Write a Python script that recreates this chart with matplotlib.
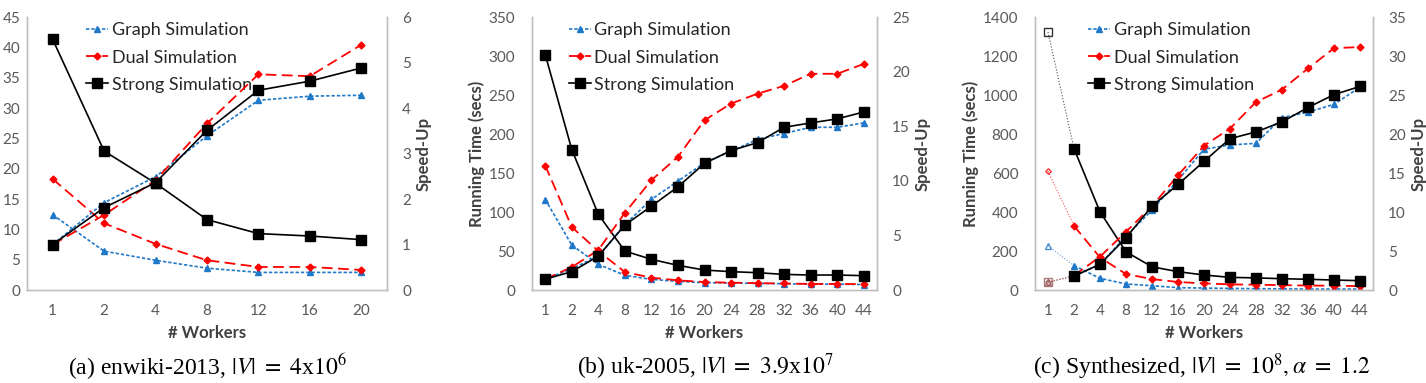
import matplotlib.pyplot as plt
import numpy as np

plt.rcParams['font.family'] = ['Lato', 'DejaVu Sans']
plt.rcParams['mathtext.fontset'] = 'stix'

# (a) enwiki-2013
workers_a = ['1', '2', '4', '8', '12', '16', '20']
time_graph_a = [12.4, 6.4, 4.9, 3.6, 2.9, 2.9, 2.9]
time_dual_a = [18.3, 11.0, 7.6, 4.9, 3.8, 3.8, 3.3]
time_strong_a = [41.3, 22.9, 17.6, 11.6, 9.3, 8.9, 8.3]
speed_graph_a = [1.0, 1.92, 2.49, 3.39, 4.17, 4.26, 4.28]
speed_dual_a = [1.0, 1.65, 2.41, 3.66, 4.74, 4.70, 5.39]
speed_strong_a = [1.0, 1.81, 2.36, 3.51, 4.39, 4.59, 4.88]

# (b) uk-2005
workers_b = ['1', '2', '4', '8', '12', '16', '20', '24', '28', '32', '36', '40', '44']
time_graph_b = [116, 57.6, 32.9, 18.8, 13.7, 11, 9.4, 9, 8.5, 8, 7.5, 7.5, 7]
time_dual_b = [159.6, 80.7, 49.9, 23, 15.8, 12.4, 10.2, 9.4, 8.8, 8.4, 7.8, 7.8, 7.5]
time_strong_b = [301.7, 180, 96.9, 49.9, 39.3, 31.6, 25.6, 23.5, 22.2, 20, 19.2, 19.2, 18.4]
speed_graph_b = [1.0, 1.95, 3.1, 6.0, 8.3, 9.97, 11.65, 12.7, 13.8, 14.33, 14.9, 14.9, 15.3]
speed_dual_b = [1.0, 2.1, 3.66, 7.07, 10.06, 12.2, 15.55, 17.07, 17.98, 18.7, 19.8, 19.8, 20.7]
speed_strong_b = [1.0, 1.68, 3.1, 5.95, 7.68, 9.45, 11.6, 12.77, 13.5, 14.9, 15.3, 15.67, 16.3]

# (c) Synthesized
workers_c = workers_b
time_graph_c = [227, 125, 60, 31, 22, 12, 10, 8, 7, 6, 5, 5, 5]
time_dual_c = [609, 329, 167, 82, 56, 41, 34, 29, 27, 25, 23, 22, 20]
time_strong_c = [1323, 725, 401, 196, 119, 94, 77, 65, 62, 58, 55, 51, 48]
speed_graph_c = [1.0, 1.8, 3.3, 6.9, 10.24, 14.1, 18.05, 18.6, 18.8, 22.1, 22.8, 23.8, 26.0]
speed_dual_c = [1.0, 1.85, 4.27, 7.47, 10.75, 14.7, 18.5, 20.7, 24.1, 25.7, 28.4, 31.0, 31.15]
speed_strong_c = [1.0, 1.79, 3.29, 6.7, 10.75, 13.53, 16.5, 19.4, 20.27, 21.55, 23.4, 25.05, 26.1]

captions = [r'(a) enwiki-2013, $|V|\ =\ 4$x$10^6$',
            r'(b) uk-2005, $|V|\ =\ 3.9$x$10^7$',
            r'(c) Synthesized, $|V|\ =\ 10^8, \alpha\ =\ 1.2$']

BLUE = '#1f78c8'
RED = '#ff0000'
BLACK = '#000000'
GRID = '#bfbfbf'
TXT = '#595959'

styles = {
    'Graph Simulation': dict(color=BLUE, ls=(0, (2, 1.2)), marker='^', ms=5, lw=1.2),
    'Dual Simulation': dict(color=RED, ls=(0, (6, 3)), marker='D', ms=3.5, lw=1.3),
    'Strong Simulation': dict(color=BLACK, ls='-', marker='s', ms=6.5, lw=1.2),
}

fig = plt.figure(figsize=(14.26, 3.83), dpi=100)

panels = [
    dict(rect=[27 / 1426, 0.2428, 360 / 1426, 0.7128], workers=workers_a,
         time=[time_graph_a, time_dual_a, time_strong_a],
         speed=[speed_graph_a, speed_dual_a, speed_strong_a],
         ylim=(0, 45), yticks=np.arange(0, 46, 5), ylim2=(0, 6), yticks2=np.arange(0, 7, 1),
         hollow=False, cap_x=207, leg_x=0.12, ylabel=False),
    dict(rect=[532 / 1426, 0.2428, 345 / 1426, 0.7128], workers=workers_b,
         time=[time_graph_b, time_dual_b, time_strong_b],
         speed=[speed_graph_b, speed_dual_b, speed_strong_b],
         ylim=(0, 350), yticks=np.arange(0, 351, 50), ylim2=(0, 25), yticks2=np.arange(0, 26, 5),
         hollow=False, cap_x=705, leg_x=0.06, ylabel=True),
    dict(rect=[1035 / 1426, 0.2428, 338 / 1426, 0.7128], workers=workers_c,
         time=[time_graph_c, time_dual_c, time_strong_c],
         speed=[speed_graph_c, speed_dual_c, speed_strong_c],
         ylim=(0, 1400), yticks=np.arange(0, 1401, 200), ylim2=(0, 35), yticks2=np.arange(0, 36, 5),
         hollow=True, cap_x=1202, leg_x=0.11, ylabel=True),
]


def draw(a, x, y, st, hollow, label=None, first_color=None):
    if hollow:
        # first point drawn faint and hollow, joined by a thin dotted line
        c0 = first_color or st['color']
        a.plot(x[:2], y[:2], color=c0, ls=':', lw=0.8, alpha=0.7)
        a.plot(x[:1], y[:1], ls='none', marker=st['marker'], ms=st['ms'] * 0.8,
               mfc='none', mec=c0, alpha=0.8)
        a.plot(x[1:], y[1:], color=st['color'], ls=st['ls'], lw=st['lw'],
               marker=st['marker'], ms=st['ms'], label=label)
    else:
        a.plot(x, y, color=st['color'], ls=st['ls'], lw=st['lw'],
               marker=st['marker'], ms=st['ms'], label=label)


for i, p in enumerate(panels):
    ax = fig.add_axes(p['rect'])
    ax2 = ax.twinx()
    n = len(p['workers'])
    x = np.arange(n)
    names = list(styles.keys())
    for name, t, s in zip(names, p['time'], p['speed']):
        st = styles[name]
        draw(ax, x, t, st, p['hollow'], label=name)
        draw(ax2, x, s, st, p['hollow'], first_color='#9a5a5a')

    ax.set_xlim(-0.5, n - 0.5)
    ax.set_xticks(x)
    ax.set_xticklabels(p['workers'])
    ax.set_ylim(*p['ylim'])
    ax.set_yticks(p['yticks'])
    ax2.set_ylim(*p['ylim2'])
    ax2.set_yticks(p['yticks2'])

    for a in (ax, ax2):
        a.spines['top'].set_visible(False)
        for sp in ('left', 'right', 'bottom'):
            a.spines[sp].set_color(GRID)
            a.spines[sp].set_linewidth(1.0)
        a.tick_params(length=0, labelsize=11, labelcolor=TXT)
    ax.tick_params(axis='x', pad=10)
    ax.tick_params(axis='y', pad=5 if i == 0 else 12)
    ax2.tick_params(axis='y', pad=11)

    ax.set_xlabel('# Workers', fontsize=12, fontweight='bold', color='#404040', labelpad=5)
    if p['ylabel']:
        ax.set_ylabel('Running Time (secs)', fontsize=12, fontweight='bold', color='#404040',
                      labelpad=3)
    ax2.set_ylabel('Speed-Up', fontsize=12, fontweight='bold', color='#404040', labelpad=3)

    ax.legend(loc='upper left', bbox_to_anchor=(p['leg_x'], 1.04),
              frameon=False, fontsize=13, handlelength=1.2, handletextpad=0.2,
              labelspacing=0.62, labelcolor='#262626')

    fig.text(p['cap_x'] / 1426, 0.003, captions[i], ha='center', va='bottom',
             fontsize=17, family='Liberation Serif')

fig.savefig('out.png', dpi=100)
